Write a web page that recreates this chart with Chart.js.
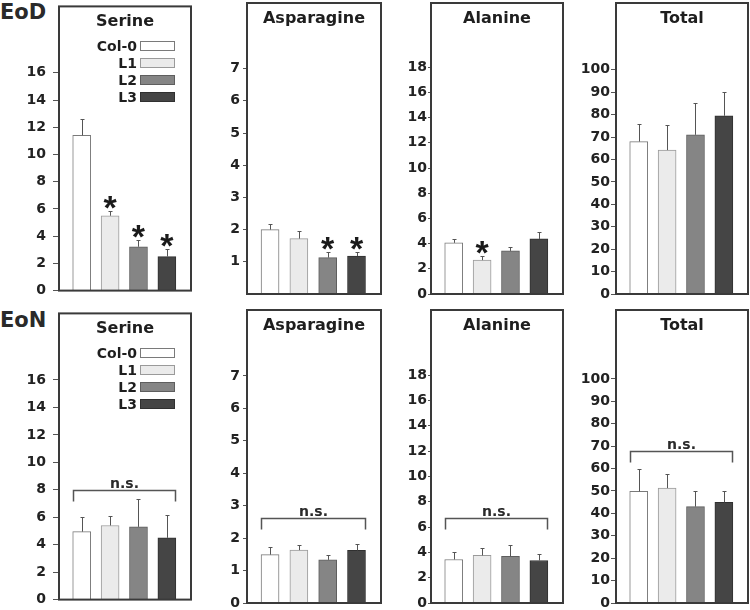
<!DOCTYPE html>
<html><head><meta charset="utf-8">
<script src="https://cdn.jsdelivr.net/npm/chart.js@4.4.1/dist/chart.umd.min.js"></script>
<style>
html,body{margin:0;padding:0;background:#fff;width:750px;height:610px;overflow:hidden;}
body{position:relative;}
.panel{position:absolute;}
.rowlab{position:absolute;left:0;font:bold 21px "DejaVu Sans";line-height:21px;color:#2a2a2a;white-space:nowrap;}
</style></head><body>
<script>
// ---------------- data ----------------
const genotypes = ['Col-0', 'L1', 'L2', 'L3'];
const metabolites = ['Serine', 'Asparagine', 'Alanine', 'Total'];
const conditions = ['EoD', 'EoN'];

// End of day
const eodSerine      = [11.4, 5.5, 3.22, 2.5];
const eodSerineErr   = [1.2, 0.38, 0.52, 0.55];
const eodAsparagine    = [2.0, 1.72, 1.13, 1.18];
const eodAsparagineErr = [0.18, 0.25, 0.17, 0.12];
const eodAlanine     = [4.06, 2.69, 3.42, 4.37];
const eodAlanineErr  = [0.34, 0.31, 0.35, 0.53];
const eodTotal       = [68.0, 64.2, 71.0, 79.5];
const eodTotalErr    = [8.0, 11.0, 14.0, 10.5];
// significance stars (EoD)
const eodSerineSig     = [false, true, true, true];
const eodAsparagineSig = [false, false, true, true];
const eodAlanineSig    = [false, true, false, false];
const eodTotalSig      = [false, false, false, false];

// End of night
const eonSerine      = [4.95, 5.4, 5.3, 4.5];
const eonSerineErr   = [1.1, 0.7, 2.0, 1.65];
const eonAsparagine    = [1.49, 1.63, 1.33, 1.62];
const eonAsparagineErr = [0.25, 0.16, 0.16, 0.21];
const eonAlanine     = [3.44, 3.76, 3.68, 3.36];
const eonAlanineErr  = [0.58, 0.58, 0.9, 0.48];
const eonTotal       = [49.8, 51.3, 43.0, 44.9];
const eonTotalErr    = [10.0, 6.2, 6.8, 5.3];
// "n.s." bracket levels (EoN)
const eonNsLevel = [8.0, 2.62, 6.7, 67.9];
const nsText = 'n.s.';

// tick labels
const serineTicks = [0, 2, 4, 6, 8, 10, 12, 14, 16];
const asparagineTicksEoD = [1, 2, 3, 4, 5, 6, 7];
const asparagineTicksEoN = [0, 1, 2, 3, 4, 5, 6, 7];
const alanineTicks = [0, 2, 4, 6, 8, 10, 12, 14, 16, 18];
const totalTicks = [0, 10, 20, 30, 40, 50, 60, 70, 80, 90, 100];
// axis top values
const axisMaxEoD = [20.88, 9.04, 23.1, 129.8];
const axisMaxEoN = [20.85, 9.03, 23.15, 130.8];

// ---------------- style / layout ----------------
const FONT = '"DejaVu Sans", sans-serif';
const barFill = ['#ffffff', '#ebebeb', '#858585', '#454545'];
const barEdge = ['#7a7a7a', '#9a9a9a', '#5e5e5e', '#303030'];
const colLeft = [59, 247, 431, 616];
const colWidth = [132, 134, 132, 132];
const rowTop = [3, 310];
const rowHeight = [291, 293];
const rowLabelTop = [2, 310];
const tickLen = [6, 4, 3, 5];
const tickPad = [7, 3, 1, 1];
const AXW = 58, PADV = 12;

const rows = [
  { values: [eodSerine, eodAsparagine, eodAlanine, eodTotal],
    errs: [eodSerineErr, eodAsparagineErr, eodAlanineErr, eodTotalErr],
    sig: [eodSerineSig, eodAsparagineSig, eodAlanineSig, eodTotalSig],
    ns: [null, null, null, null],
    ticks: [serineTicks, asparagineTicksEoD, alanineTicks, totalTicks],
    max: axisMaxEoD },
  { values: [eonSerine, eonAsparagine, eonAlanine, eonTotal],
    errs: [eonSerineErr, eonAsparagineErr, eonAlanineErr, eonTotalErr],
    sig: [null, null, null, null],
    ns: eonNsLevel,
    ticks: [serineTicks, asparagineTicksEoN, alanineTicks, totalTicks],
    max: axisMaxEoN }
];

const deco = {
  id: 'deco',
  afterDatasetsDraw(chart) {
    const p = chart.options.plugins.deco;
    const { ctx, scales: { y } } = chart;
    const meta = chart.getDatasetMeta(0);
    ctx.save();
    // error bars
    ctx.strokeStyle = '#555'; ctx.lineWidth = 1;
    meta.data.forEach((el, i) => {
      const top = Math.round(y.getPixelForValue(p.values[i] + p.errs[i])) + 0.5;
      const x = Math.round(el.x) + 0.5;
      ctx.beginPath();
      ctx.moveTo(x, el.y); ctx.lineTo(x, top);
      ctx.moveTo(x - 2, top); ctx.lineTo(x + 2, top);
      ctx.stroke();
    });
    // stars
    if (p.sig) {
      ctx.fillStyle = '#1a1a1a';
      ctx.font = 'bold 34px "Liberation Sans", Arial, sans-serif';
      ctx.textAlign = 'center'; ctx.textBaseline = 'alphabetic';
      meta.data.forEach((el, i) => {
        if (!p.sig[i]) return;
        const top = y.getPixelForValue(p.values[i] + p.errs[i]) - 2;
        const m = ctx.measureText('*');
        ctx.fillText('*', el.x, top - m.actualBoundingBoxDescent);
      });
    }
    // n.s. bracket
    if (p.ns != null) {
      const first = meta.data[0], last = meta.data[meta.data.length - 1];
      const x1 = Math.round(first.x - first.width / 2) + 0.5;
      const x2 = Math.round(last.x + last.width / 2) - 0.5;
      const yy = Math.round(y.getPixelForValue(p.ns)) + 0.5;
      ctx.strokeStyle = '#555'; ctx.lineWidth = 1.5;
      ctx.beginPath();
      ctx.moveTo(x1, yy + 11); ctx.lineTo(x1, yy); ctx.lineTo(x2, yy); ctx.lineTo(x2, yy + 11);
      ctx.stroke();
      ctx.fillStyle = '#2a2a2a';
      ctx.font = 'bold 14px ' + FONT;
      ctx.textAlign = 'center'; ctx.textBaseline = 'alphabetic';
      ctx.fillText(nsText, (x1 + x2) / 2, yy - 3);
    }
    ctx.restore();
  },
  afterDraw(chart) {
    const p = chart.options.plugins.deco;
    const { ctx, chartArea: a } = chart;
    ctx.save();
    // frame
    ctx.strokeStyle = '#3a3a3a'; ctx.lineWidth = 2;
    ctx.strokeRect(a.left, a.top, a.right - a.left, a.bottom - a.top);
    // title
    ctx.fillStyle = '#1e1e1e';
    ctx.font = 'bold 16px ' + FONT;
    ctx.textAlign = 'center'; ctx.textBaseline = 'alphabetic';
    ctx.fillText(p.title, (a.left + a.right) / 2, a.top + 20);
    // legend
    if (p.legend) {
      ctx.font = 'bold 14px ' + FONT;
      ctx.textAlign = 'right';
      genotypes.forEach((g, i) => {
        const bx = a.right - 16 - 35, by = Math.round(a.top + 35 + i * 16.8);
        ctx.fillStyle = barFill[i];
        ctx.fillRect(bx, by, 35, 10);
        ctx.strokeStyle = barEdge[i]; ctx.lineWidth = 1;
        ctx.strokeRect(bx + 0.5, by + 0.5, 34, 9);
        ctx.fillStyle = '#1e1e1e';
        ctx.fillText(g, bx - 3, by + 10);
      });
    }
    ctx.restore();
  }
};

rows.forEach((row, r) => {
  const lab = document.createElement('div');
  lab.className = 'rowlab';
  lab.style.top = rowLabelTop[r] + 'px';
  lab.textContent = conditions[r];
  document.body.appendChild(lab);

  metabolites.forEach((title, c) => {
    const div = document.createElement('div');
    div.className = 'panel';
    const w = AXW + colWidth[c] + 2;
    const h = rowHeight[r] + 2 * PADV;
    div.style.left = (colLeft[c] - AXW) + 'px';
    div.style.top = (rowTop[r] - PADV) + 'px';
    div.style.width = w + 'px';
    div.style.height = h + 'px';
    const cv = document.createElement('canvas');
    div.appendChild(cv);
    document.body.appendChild(div);

    const vals = row.values[c];
    const tv = row.ticks[c];
    new Chart(cv, {
      type: 'bar',
      data: {
        datasets: [{
          label: title,
          data: vals.map((v, i) => ({ x: i, y: v })),
          backgroundColor: barFill,
          borderColor: barEdge,
          borderWidth: 1,
          barThickness: 18
        }]
      },
      options: {
        responsive: true,
        maintainAspectRatio: false,
        animation: false,
        events: [],
        layout: { padding: { left: 0, right: 2, top: PADV, bottom: PADV } },
        scales: {
          x: { type: 'linear', min: -0.8, max: 3.85, offset: false,
               grid: { offset: false }, display: false },
          y: {
            min: 0, max: row.max[c],
            afterFit: (s) => { s.width = AXW; },
            afterBuildTicks: (s) => { s.ticks = tv.map(v => ({ value: v })); },
            grid: { display: true, drawOnChartArea: false, drawTicks: true,
                    tickLength: tickLen[c], color: '#555', lineWidth: 1 },
            border: { display: false },
            ticks: { color: '#222', padding: tickPad[c],
                     font: { family: FONT, size: 14, weight: 'bold' } }
          }
        },
        plugins: {
          legend: { display: false },
          tooltip: { enabled: false },
          deco: {
            title: title,
            values: vals,
            errs: row.errs[c],
            sig: row.sig[c],
            ns: row.ns[c],
            legend: c === 0
          }
        }
      },
      plugins: [deco]
    });
  });
});
</script>
</body></html>
